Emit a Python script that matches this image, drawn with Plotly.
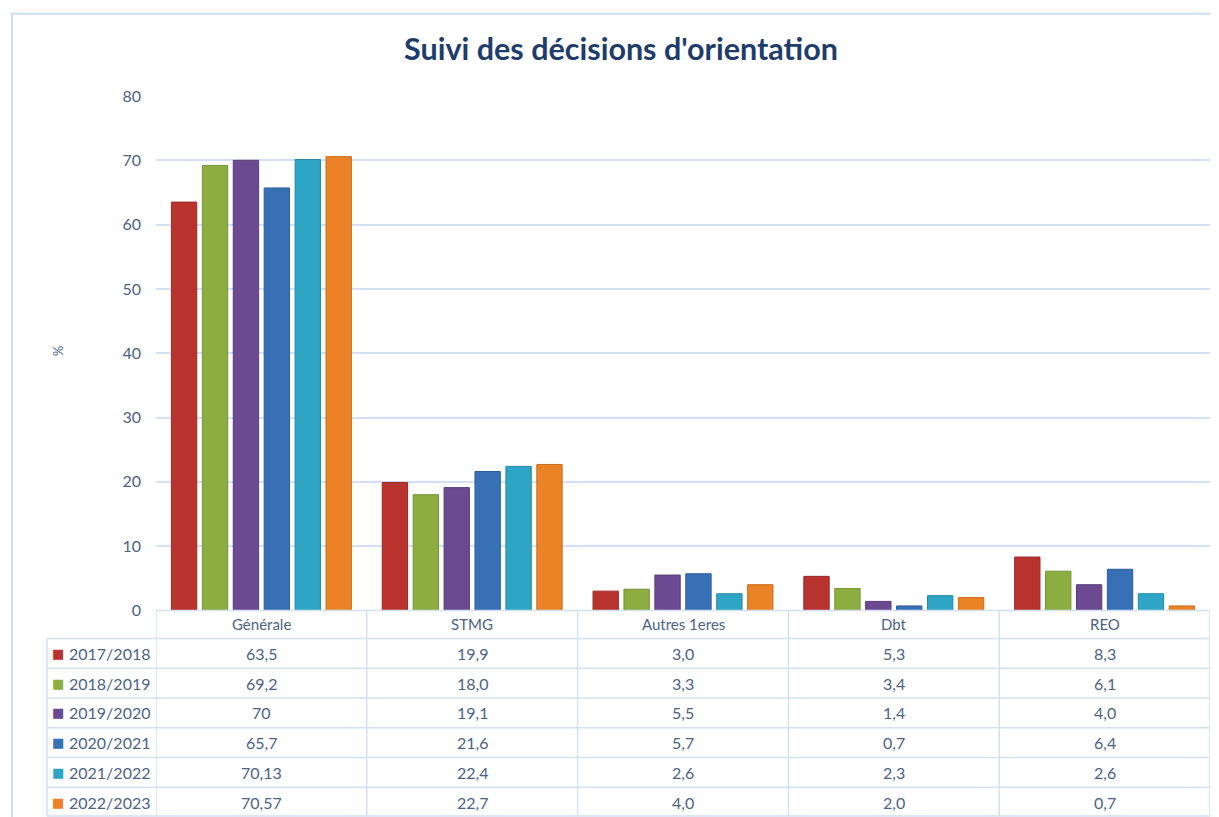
import plotly.graph_objects as go

categories = ["Générale", "STMG", "Autres 1eres", "Dbt", "REO"]
years = ["2017/2018", "2018/2019", "2019/2020", "2020/2021", "2021/2022", "2022/2023"]

v_2017 = [63.5, 19.9, 3.0, 5.3, 8.3]
v_2018 = [69.2, 18.0, 3.3, 3.4, 6.1]
v_2019 = [70, 19.1, 5.5, 1.4, 4.0]
v_2020 = [65.7, 21.6, 5.7, 0.7, 6.4]
v_2021 = [70.13, 22.4, 2.6, 2.3, 2.6]
v_2022 = [70.57, 22.7, 4.0, 2.0, 0.7]

t_2017 = ["63,5", "19,9", "3,0", "5,3", "8,3"]
t_2018 = ["69,2", "18,0", "3,3", "3,4", "6,1"]
t_2019 = ["70", "19,1", "5,5", "1,4", "4,0"]
t_2020 = ["65,7", "21,6", "5,7", "0,7", "6,4"]
t_2021 = ["70,13", "22,4", "2,6", "2,3", "2,6"]
t_2022 = ["70,57", "22,7", "4,0", "2,0", "0,7"]

values = [v_2017, v_2018, v_2019, v_2020, v_2021, v_2022]
texts = [t_2017, t_2018, t_2019, t_2020, t_2021, t_2022]
colors = ["#b9332e", "#8cae41", "#6c4a91", "#3870b6", "#2ea5c4", "#ec8226"]
edges = ["#9a2a27", "#75933a", "#5a3d7a", "#2e5d98", "#2689a3", "#c86d1f"]

# ---- layout geometry (page pixels) ----
OFF = 8


def cy(t):
    # vertical calibration between requested and photographed positions
    return (t - 1.4) / 0.985


W, H = 1219 - OFF, 819
P_LEFT, P_RIGHT = 47, 1210
P_TOP, P_BOT = cy(96), cy(815)
AX_LEFT, AX_BOT = 156, cy(609)
ROW_TOP = cy(637)

ml = P_LEFT - OFF
mr = W - (P_RIGHT - OFF)
mt = P_TOP - OFF
mb = H - (P_BOT - OFF)
paper_w = P_RIGHT - P_LEFT
paper_h = P_BOT - P_TOP


def fx(px):
    return (px - P_LEFT) / paper_w


def fy(py):
    return (P_BOT - py) / paper_h


text_col = "#4b6385"
grid_col = "#d3e1f2"
font_fam = "Lato, Open Sans, sans-serif"

fig = go.Figure()
for y, v, c, e in zip(years, values, colors, edges):
    fig.add_trace(go.Bar(x=categories, y=v, name=y,
                         marker=dict(color=c, line=dict(color=e, width=1)),
                         showlegend=False))

n_rows = len(years)
row_h = (P_BOT - ROW_TOP) / n_rows
annotations = []
shapes = []

for cat in categories:
    annotations.append(dict(text=cat, x=cat, xref="x", y=fy((AX_BOT + ROW_TOP) / 2), yref="paper",
                            showarrow=False, xanchor="center", yanchor="middle",
                            font=dict(family=font_fam, size=15, color=text_col)))

for r, (yr, col, trow) in enumerate(zip(years, colors, texts)):
    yc = fy(ROW_TOP + row_h * (r + 0.5))
    annotations.append(dict(text="■", x=fx(58), xref="paper", y=yc, yref="paper",
                            showarrow=False, xanchor="center", yanchor="middle",
                            font=dict(family="DejaVu Sans", size=13, color=col)))
    annotations.append(dict(text=yr, x=fx(67), xref="paper", y=yc, yref="paper",
                            showarrow=False, xanchor="left", yanchor="middle",
                            font=dict(family=font_fam, size=16, color=text_col)))
    for cat, t in zip(categories, trow):
        annotations.append(dict(text=t, x=cat, xref="x", y=yc, yref="paper",
                                showarrow=False, xanchor="center", yanchor="middle",
                                font=dict(family=font_fam, size=16, color=text_col)))

line = dict(color=grid_col, width=1.5)
shapes.append(dict(type="line", xref="paper", yref="paper", x0=fx(AX_LEFT), x1=1,
                   y0=fy(AX_BOT), y1=fy(AX_BOT), line=line))
for r in range(n_rows + 1):
    yy = fy(ROW_TOP + row_h * r) if r < n_rows else fy(P_BOT - 1)
    shapes.append(dict(type="line", xref="paper", yref="paper", x0=0, x1=1,
                       y0=yy, y1=yy, line=line))
shapes.append(dict(type="line", xref="paper", yref="paper", x0=0, x1=0,
                   y0=fy(ROW_TOP), y1=fy(P_BOT - 1), line=line))
for k in range(len(categories) + 1):
    shapes.append(dict(type="line", xref="x", yref="paper", x0=k - 0.5, x1=k - 0.5,
                       y0=fy(AX_BOT), y1=fy(P_BOT - 1), line=line))

shapes.append(dict(type="rect", xref="paper", yref="paper",
                   x0=fx(12), x1=fx(1240), y0=fy(cy(860)), y1=fy(cy(14)),
                   line=dict(color="#cfdff3", width=2), layer="below"))

annotations.append(dict(text="%", xref="paper", yref="paper", x=fx(48), y=fy(cy(350)),
                        showarrow=False, textangle=90,
                        font=dict(family=font_fam, size=13, color=text_col)))

fig.update_layout(
    width=W, height=H,
    margin=dict(l=ml, r=mr, t=mt, b=mb),
    paper_bgcolor="white", plot_bgcolor="white",
    barmode="group", bargap=0.12, bargroupgap=0.18,
    title=dict(text="<b>Suivi des décisions d'orientation</b>", x=(621 - OFF) / W, xref="container",
               y=1 - (cy(50) - OFF) / H, yref="container", yanchor="middle", xanchor="center",
               font=dict(family=font_fam, size=30.5, color="#1f3d6b")),
    xaxis=dict(domain=[fx(AX_LEFT), 1], range=[-0.5, len(categories) - 0.5],
               showticklabels=False, showgrid=False, showline=False, ticks="", zeroline=False),
    yaxis=dict(domain=[fy(AX_BOT), 1], range=[0, 80], dtick=10, showgrid=True,
               gridcolor=grid_col, gridwidth=1.5, zeroline=False, showline=False,
               ticks="", ticklabelstandoff=14,
               tickfont=dict(family=font_fam, size=16, color=text_col)),
    annotations=annotations,
    shapes=shapes,
)

fig.write_html("out.html")
